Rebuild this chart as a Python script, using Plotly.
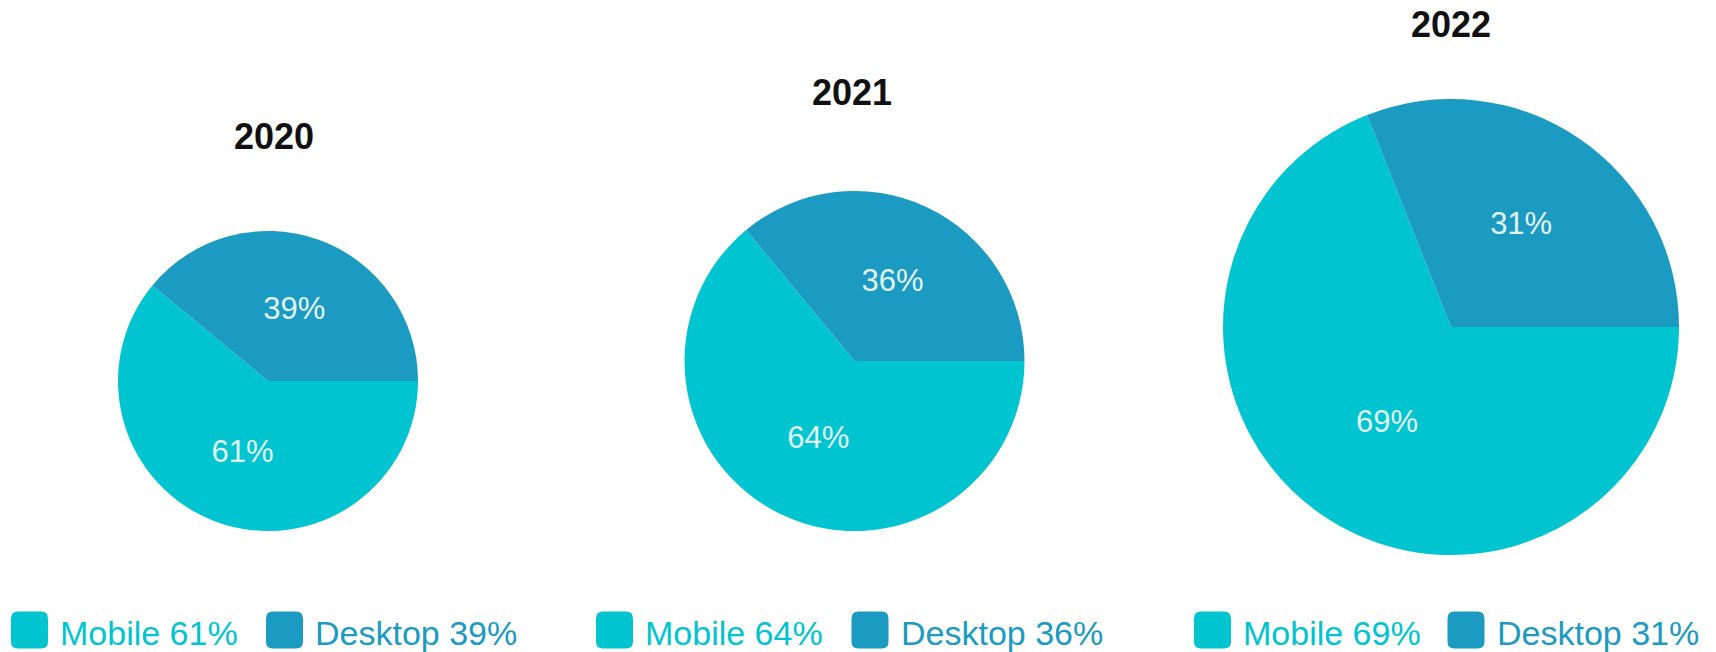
import plotly.graph_objects as go

# Device share by year
years = ["2020", "2021", "2022"]
segments = ["Mobile", "Desktop"]
mobile_share = [61, 64, 69]
desktop_share = [39, 36, 31]

# Canvas and per-year layout (pixel units)
W, H = 1716, 652
pie_cx = [268, 854.5, 1451]
pie_cy = [381, 361, 327]
pie_r = [150, 170, 228]
title_xy = [(274, 136), (852, 93), (1451, 24)]
legend_x = [(11, 266), (596, 851.5), (1194, 1447.5)]
legend_y = 630
swatch = 37
text_gap = 47

colors = ["#00C4CF", "#1B9AC2"]
font_family = "Liberation Sans, Arial, Helvetica, sans-serif"


def px(x):
    return x / W


def py(y):
    return 1 - y / H


def rounded_rect(x0, y0, x1, y1, rad):
    # rounded rectangle in pixel coords -> paper path
    pts = [
        f"M{px(x0 + rad)},{py(y0)}",
        f"L{px(x1 - rad)},{py(y0)}",
        f"Q{px(x1)},{py(y0)} {px(x1)},{py(y0 + rad)}",
        f"L{px(x1)},{py(y1 - rad)}",
        f"Q{px(x1)},{py(y1)} {px(x1 - rad)},{py(y1)}",
        f"L{px(x0 + rad)},{py(y1)}",
        f"Q{px(x0)},{py(y1)} {px(x0)},{py(y1 - rad)}",
        f"L{px(x0)},{py(y0 + rad)}",
        f"Q{px(x0)},{py(y0)} {px(x0 + rad)},{py(y0)}",
        "Z",
    ]
    return " ".join(pts)


fig = go.Figure()
annotations = []
shapes = []

for i, year in enumerate(years):
    cx, cy, r = pie_cx[i], pie_cy[i], pie_r[i]
    values = [mobile_share[i], desktop_share[i]]
    fig.add_trace(
        go.Pie(
            labels=segments,
            values=values,
            sort=False,
            direction="clockwise",
            rotation=90,
            marker=dict(colors=colors, line=dict(width=0)),
            textinfo="percent",
            texttemplate="%{value}%",
            textposition="inside",
            insidetextorientation="horizontal",
            textfont=dict(family=font_family, size=31, color="#E2F5F8"),
            domain=dict(x=[px(cx - r), px(cx + r)], y=[py(cy + r), py(cy - r)]),
            showlegend=False,
            hoverinfo="label+percent",
            name=year,
        )
    )

    tx, ty = title_xy[i]
    annotations.append(
        dict(
            text=f"<b>{year}</b>",
            x=px(tx), y=py(ty), xref="paper", yref="paper",
            xanchor="center", yanchor="middle", showarrow=False,
            font=dict(family=font_family, size=36, color="#111111"),
        )
    )

    # legend row for this year
    for j, seg in enumerate(segments):
        mx = legend_x[i][j]
        shapes.append(
            dict(
                type="path", xref="paper", yref="paper",
                path=rounded_rect(mx, legend_y - swatch / 2, mx + swatch, legend_y + swatch / 2, 7),
                fillcolor=colors[j], line=dict(width=0),
            )
        )
        annotations.append(
            dict(
                text=f"{seg} {values[j]}%",
                x=px(mx + text_gap), y=py(legend_y + 3), xref="paper", yref="paper",
                xanchor="left", yanchor="middle", showarrow=False,
                font=dict(family=font_family, size=34, color=colors[j]),
            )
        )

fig.update_layout(
    width=W, height=H,
    margin=dict(l=0, r=0, t=0, b=0),
    paper_bgcolor="white", plot_bgcolor="white",
    annotations=annotations,
    shapes=shapes,
)

fig.write_html("out.html")
